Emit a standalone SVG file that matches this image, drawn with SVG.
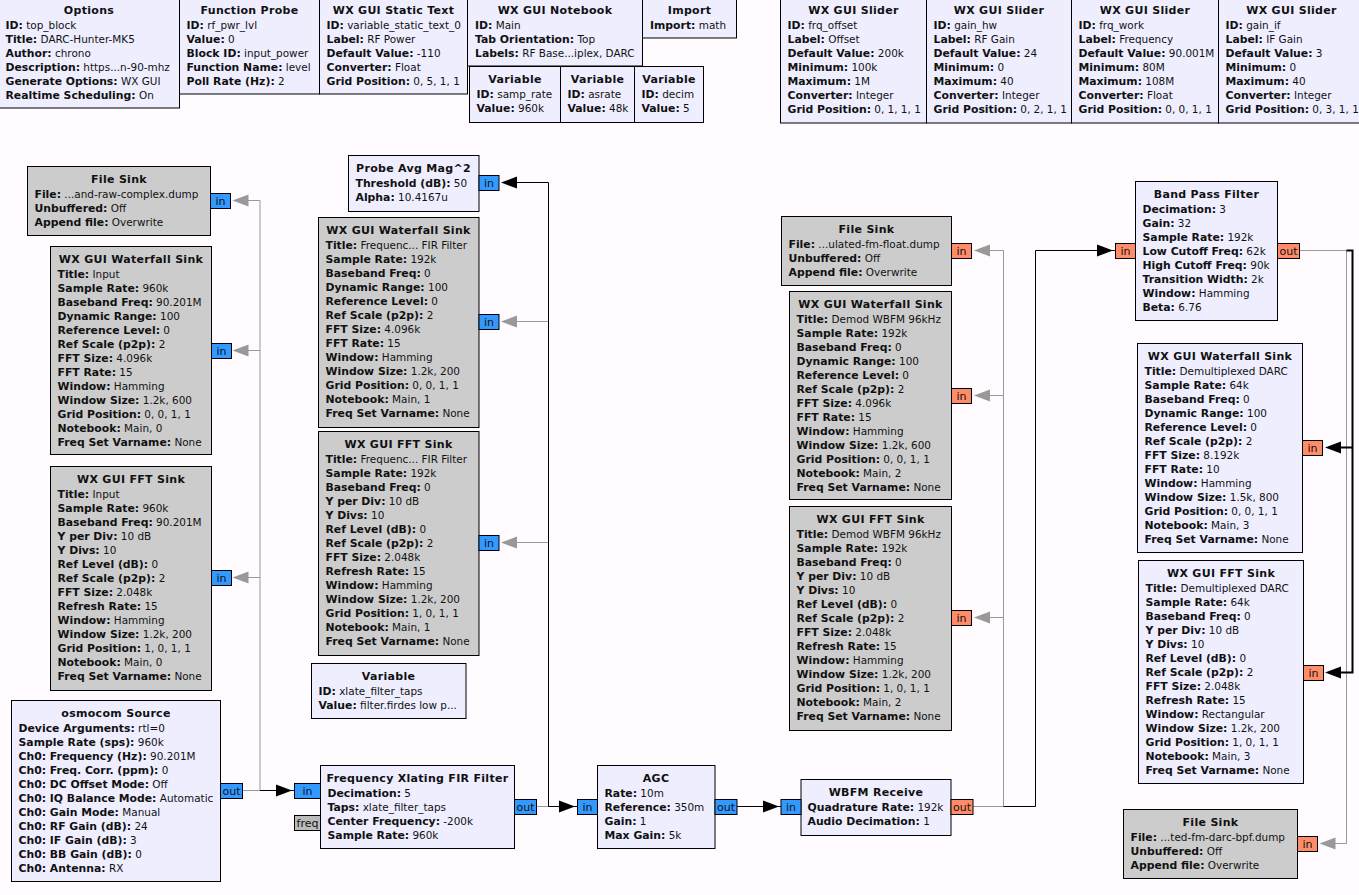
<svg xmlns="http://www.w3.org/2000/svg" width="1359" height="895" viewBox="0 0 1359 895">
<style>
text{font-family:"DejaVu Sans",sans-serif;font-size:10.45px;fill:#111}
.h{font-weight:bold;text-anchor:middle;font-size:11px;letter-spacing:.3px}
tspan{font-weight:bold;font-size:10.85px}
.b{fill:#eef;stroke:#000;stroke-width:1}
.d{fill:#ccc;stroke:#000;stroke-width:1}
.pb{fill:#39f;stroke:#000;stroke-width:1}
.po{fill:#ff8c69;stroke:#000;stroke-width:1}
.pg{fill:#bbb;stroke:#000;stroke-width:1}
text.p{text-anchor:middle;font-size:11px}
.k{fill:none;stroke:#000;stroke-width:1}
.g{fill:none;stroke:#999;stroke-width:1}
</style>
<defs>
<polygon id="ar" points="0,0 16,-6 16,6" fill="#000"/>
<polygon id="al" points="0,0 -16,-6 -16,6" fill="#000"/>
<polygon id="ag" points="0,0 16,-6 16,6" fill="#999"/>
</defs>
<rect width="1359" height="895" fill="#fffbff"/>
<g id="connectors">
<path class="g" d="M242 790.5H260V200.5H248M260 350.5H248M260 577.5H248"/>
<path class="g" d="M536.5 806.5H548.5V321.5H517M548.5 542.5H517"/>
<path class="g" d="M973 806.5H1003.5V250.5H990M1003.5 395.5H990M1003.5 617.5H990"/>
<path class="g" d="M1299.5 250.5H1346.5V843.5H1335"/>
<path class="k" d="M260 790.5H294"/>
<path class="k" d="M548.5 806.5H577M548.5 806.5V182.5H517"/>
<path class="k" d="M737 806.5H781"/>
<path class="k" d="M1003.5 806.5H1035.5V250.5H1115"/>
<path class="k" style="stroke-width:2" d="M1346.5 250.5H1352.5V672.5H1340M1352.5 447.5H1340"/>
<use href="#al" x="292" y="790.5"/>
<use href="#al" x="575" y="806.5"/>
<use href="#al" x="779" y="806.5"/>
<use href="#al" x="1113" y="250.5"/>
<use href="#ar" x="501" y="182.5"/>
<use href="#ar" x="1325" y="447.5"/>
<use href="#ar" x="1325" y="672.5"/>
<use href="#ag" x="232.5" y="200.5"/>
<use href="#ag" x="232.5" y="350.5"/>
<use href="#ag" x="232.5" y="577.5"/>
<use href="#ag" x="501" y="321.5"/>
<use href="#ag" x="501" y="542.5"/>
<use href="#ag" x="974" y="250.5"/>
<use href="#ag" x="974" y="395.5"/>
<use href="#ag" x="974" y="617.5"/>
<use href="#ag" x="1319.5" y="843.5"/>
</g>
<g id="options"><rect class="b" x="-2" y="-5" width="181.5" height="113"/><text class="h" x="89" y="14">Options</text>
<text x="5.5" y="29"><tspan>ID:</tspan> top_block</text><text x="5.5" y="43"><tspan>Title:</tspan> DARC-Hunter-MK5</text><text x="5.5" y="57"><tspan>Author:</tspan> chrono</text><text x="5.5" y="71"><tspan>Description:</tspan> https...n-90-mhz</text><text x="5.5" y="85"><tspan>Generate Options:</tspan> WX GUI</text><text x="5.5" y="99"><tspan>Realtime Scheduling:</tspan> On</text></g>
<g id="function_probe"><rect class="b" x="179.5" y="-5" width="140" height="99"/><text class="h" x="249.5" y="14">Function Probe</text>
<text x="186.5" y="29"><tspan>ID:</tspan> rf_pwr_lvl</text><text x="186.5" y="43"><tspan>Value:</tspan> 0</text><text x="186.5" y="57"><tspan>Block ID:</tspan> input_power</text><text x="186.5" y="71"><tspan>Function Name:</tspan> level</text><text x="186.5" y="85"><tspan>Poll Rate (Hz):</tspan> 2</text></g>
<g id="static_text"><rect class="b" x="319.5" y="-5" width="148" height="99"/><text class="h" x="393.5" y="14">WX GUI Static Text</text>
<text x="326.5" y="29"><tspan>ID:</tspan> variable_static_text_0</text><text x="326.5" y="43"><tspan>Label:</tspan> RF Power</text><text x="326.5" y="57"><tspan>Default Value:</tspan> -110</text><text x="326.5" y="71"><tspan>Converter:</tspan> Float</text><text x="326.5" y="85"><tspan>Grid Position:</tspan> 0, 5, 1, 1</text></g>
<g id="notebook"><rect class="b" x="467.5" y="-5" width="175" height="71"/><text class="h" x="555" y="14">WX GUI Notebook</text>
<text x="475" y="29"><tspan>ID:</tspan> Main</text><text x="475" y="43"><tspan>Tab Orientation:</tspan> Top</text><text x="475" y="57"><tspan>Labels:</tspan> RF Base...iplex, DARC</text></g>
<g id="import"><rect class="b" x="642.5" y="-5" width="94" height="43"/><text class="h" x="689.5" y="14">Import</text>
<text x="650" y="29"><tspan>Import:</tspan> math</text></g>
<g id="var_samp_rate"><rect class="b" x="469.5" y="66.5" width="91" height="56"/><text class="h" x="515" y="83">Variable</text>
<text x="476.5" y="98"><tspan>ID:</tspan> samp_rate</text><text x="476.5" y="112"><tspan>Value:</tspan> 960k</text></g>
<g id="var_asrate"><rect class="b" x="560.5" y="66.5" width="74" height="56"/><text class="h" x="597.5" y="83">Variable</text>
<text x="567.5" y="98"><tspan>ID:</tspan> asrate</text><text x="567.5" y="112"><tspan>Value:</tspan> 48k</text></g>
<g id="var_decim"><rect class="b" x="634.5" y="66.5" width="69" height="56"/><text class="h" x="669" y="83">Variable</text>
<text x="641.5" y="98"><tspan>ID:</tspan> decim</text><text x="641.5" y="112"><tspan>Value:</tspan> 5</text></g>
<g id="slider_frq_offset"><rect class="b" x="780.5" y="-5" width="146" height="128"/><text class="h" x="853.5" y="14">WX GUI Slider</text>
<text x="787.5" y="29"><tspan>ID:</tspan> frq_offset</text><text x="787.5" y="43"><tspan>Label:</tspan> Offset</text><text x="787.5" y="57"><tspan>Default Value:</tspan> 200k</text><text x="787.5" y="71"><tspan>Minimum:</tspan> 100k</text><text x="787.5" y="85"><tspan>Maximum:</tspan> 1M</text><text x="787.5" y="99"><tspan>Converter:</tspan> Integer</text><text x="787.5" y="113"><tspan>Grid Position:</tspan> 0, 1, 1, 1</text></g>
<g id="slider_gain_hw"><rect class="b" x="926.5" y="-5" width="145" height="128"/><text class="h" x="999" y="14">WX GUI Slider</text>
<text x="933.5" y="29"><tspan>ID:</tspan> gain_hw</text><text x="933.5" y="43"><tspan>Label:</tspan> RF Gain</text><text x="933.5" y="57"><tspan>Default Value:</tspan> 24</text><text x="933.5" y="71"><tspan>Minimum:</tspan> 0</text><text x="933.5" y="85"><tspan>Maximum:</tspan> 40</text><text x="933.5" y="99"><tspan>Converter:</tspan> Integer</text><text x="933.5" y="113"><tspan>Grid Position:</tspan> 0, 2, 1, 1</text></g>
<g id="slider_frq_work"><rect class="b" x="1071.5" y="-5" width="147" height="128"/><text class="h" x="1145" y="14">WX GUI Slider</text>
<text x="1078.5" y="29"><tspan>ID:</tspan> frq_work</text><text x="1078.5" y="43"><tspan>Label:</tspan> Frequency</text><text x="1078.5" y="57"><tspan>Default Value:</tspan> 90.001M</text><text x="1078.5" y="71"><tspan>Minimum:</tspan> 80M</text><text x="1078.5" y="85"><tspan>Maximum:</tspan> 108M</text><text x="1078.5" y="99"><tspan>Converter:</tspan> Float</text><text x="1078.5" y="113"><tspan>Grid Position:</tspan> 0, 0, 1, 1</text></g>
<g id="slider_gain_if"><rect class="b" x="1218.5" y="-5" width="146" height="128"/><text class="h" x="1291.5" y="14">WX GUI Slider</text>
<text x="1225.5" y="29"><tspan>ID:</tspan> gain_if</text><text x="1225.5" y="43"><tspan>Label:</tspan> IF Gain</text><text x="1225.5" y="57"><tspan>Default Value:</tspan> 3</text><text x="1225.5" y="71"><tspan>Minimum:</tspan> 0</text><text x="1225.5" y="85"><tspan>Maximum:</tspan> 40</text><text x="1225.5" y="99"><tspan>Converter:</tspan> Integer</text><text x="1225.5" y="113"><tspan>Grid Position:</tspan> 0, 3, 1, 1</text></g>
<g id="file_sink_raw"><rect class="d" x="27.5" y="166.5" width="183" height="69"/><text class="h" x="119" y="183">File Sink</text>
<text x="34.5" y="198"><tspan>File:</tspan> ...and-raw-complex.dump</text><text x="34.5" y="212"><tspan>Unbuffered:</tspan> Off</text><text x="34.5" y="226"><tspan>Append file:</tspan> Overwrite</text>
<rect class="pb" x="210.5" y="193.5" width="20" height="15"/><text class="p" x="220.5" y="205">in</text></g>
<g id="waterfall_input"><rect class="d" x="50.5" y="246.5" width="161" height="208"/><text class="h" x="131" y="263">WX GUI Waterfall Sink</text>
<text x="57.5" y="278"><tspan>Title:</tspan> Input</text><text x="57.5" y="292"><tspan>Sample Rate:</tspan> 960k</text><text x="57.5" y="306"><tspan>Baseband Freq:</tspan> 90.201M</text><text x="57.5" y="320"><tspan>Dynamic Range:</tspan> 100</text><text x="57.5" y="334"><tspan>Reference Level:</tspan> 0</text><text x="57.5" y="348"><tspan>Ref Scale (p2p):</tspan> 2</text><text x="57.5" y="362"><tspan>FFT Size:</tspan> 4.096k</text><text x="57.5" y="376"><tspan>FFT Rate:</tspan> 15</text><text x="57.5" y="390"><tspan>Window:</tspan> Hamming</text><text x="57.5" y="404"><tspan>Window Size:</tspan> 1.2k, 600</text><text x="57.5" y="418"><tspan>Grid Position:</tspan> 0, 0, 1, 1</text><text x="57.5" y="432"><tspan>Notebook:</tspan> Main, 0</text><text x="57.5" y="446"><tspan>Freq Set Varname:</tspan> None</text>
<rect class="pb" x="211.5" y="343.5" width="20" height="15"/><text class="p" x="221.5" y="355">in</text></g>
<g id="fft_input"><rect class="d" x="50.5" y="466.5" width="161" height="224"/><text class="h" x="131" y="483">WX GUI FFT Sink</text>
<text x="57.5" y="498"><tspan>Title:</tspan> Input</text><text x="57.5" y="512"><tspan>Sample Rate:</tspan> 960k</text><text x="57.5" y="526"><tspan>Baseband Freq:</tspan> 90.201M</text><text x="57.5" y="540"><tspan>Y per Div:</tspan> 10 dB</text><text x="57.5" y="554"><tspan>Y Divs:</tspan> 10</text><text x="57.5" y="568"><tspan>Ref Level (dB):</tspan> 0</text><text x="57.5" y="582"><tspan>Ref Scale (p2p):</tspan> 2</text><text x="57.5" y="596"><tspan>FFT Size:</tspan> 2.048k</text><text x="57.5" y="610"><tspan>Refresh Rate:</tspan> 15</text><text x="57.5" y="624"><tspan>Window:</tspan> Hamming</text><text x="57.5" y="638"><tspan>Window Size:</tspan> 1.2k, 200</text><text x="57.5" y="652"><tspan>Grid Position:</tspan> 1, 0, 1, 1</text><text x="57.5" y="666"><tspan>Notebook:</tspan> Main, 0</text><text x="57.5" y="680"><tspan>Freq Set Varname:</tspan> None</text>
<rect class="pb" x="211.5" y="570.5" width="20" height="15"/><text class="p" x="221.5" y="582">in</text></g>
<g id="osmocom_source"><rect class="b" x="11.5" y="700.5" width="209" height="181"/><text class="h" x="116" y="717">osmocom Source</text>
<text x="18.5" y="732"><tspan>Device Arguments:</tspan> rtl=0</text><text x="18.5" y="746"><tspan>Sample Rate (sps):</tspan> 960k</text><text x="18.5" y="760"><tspan>Ch0: Frequency (Hz):</tspan> 90.201M</text><text x="18.5" y="774"><tspan>Ch0: Freq. Corr. (ppm):</tspan> 0</text><text x="18.5" y="788"><tspan>Ch0: DC Offset Mode:</tspan> Off</text><text x="18.5" y="802"><tspan>Ch0: IQ Balance Mode:</tspan> Automatic</text><text x="18.5" y="816"><tspan>Ch0: Gain Mode:</tspan> Manual</text><text x="18.5" y="830"><tspan>Ch0: RF Gain (dB):</tspan> 24</text><text x="18.5" y="844"><tspan>Ch0: IF Gain (dB):</tspan> 3</text><text x="18.5" y="858"><tspan>Ch0: BB Gain (dB):</tspan> 0</text><text x="18.5" y="872"><tspan>Ch0: Antenna:</tspan> RX</text>
<rect class="pb" x="220.5" y="783.5" width="22" height="15"/><text class="p" x="231.5" y="795">out</text></g>
<g id="probe_avg"><rect class="b" x="348.5" y="155.5" width="130.5" height="56"/><text class="h" x="413.5" y="172">Probe Avg Mag^2</text>
<text x="355.5" y="187"><tspan>Threshold (dB):</tspan> 50</text><text x="355.5" y="201"><tspan>Alpha:</tspan> 10.4167u</text>
<rect class="pb" x="479" y="175.5" width="20" height="15"/><text class="p" x="489" y="187">in</text></g>
<g id="waterfall_fir"><rect class="d" x="318.5" y="217.5" width="160.5" height="210"/><text class="h" x="398.5" y="234">WX GUI Waterfall Sink</text>
<text x="325.5" y="249"><tspan>Title:</tspan> Frequenc... FIR Filter</text><text x="325.5" y="263"><tspan>Sample Rate:</tspan> 192k</text><text x="325.5" y="277"><tspan>Baseband Freq:</tspan> 0</text><text x="325.5" y="291"><tspan>Dynamic Range:</tspan> 100</text><text x="325.5" y="305"><tspan>Reference Level:</tspan> 0</text><text x="325.5" y="319"><tspan>Ref Scale (p2p):</tspan> 2</text><text x="325.5" y="333"><tspan>FFT Size:</tspan> 4.096k</text><text x="325.5" y="347"><tspan>FFT Rate:</tspan> 15</text><text x="325.5" y="361"><tspan>Window:</tspan> Hamming</text><text x="325.5" y="375"><tspan>Window Size:</tspan> 1.2k, 200</text><text x="325.5" y="389"><tspan>Grid Position:</tspan> 0, 0, 1, 1</text><text x="325.5" y="403"><tspan>Notebook:</tspan> Main, 1</text><text x="325.5" y="417"><tspan>Freq Set Varname:</tspan> None</text>
<rect class="pb" x="479" y="314.5" width="20" height="15"/><text class="p" x="489" y="326">in</text></g>
<g id="fft_fir"><rect class="d" x="318.5" y="431.5" width="160.5" height="224"/><text class="h" x="398.5" y="448">WX GUI FFT Sink</text>
<text x="325.5" y="463"><tspan>Title:</tspan> Frequenc... FIR Filter</text><text x="325.5" y="477"><tspan>Sample Rate:</tspan> 192k</text><text x="325.5" y="491"><tspan>Baseband Freq:</tspan> 0</text><text x="325.5" y="505"><tspan>Y per Div:</tspan> 10 dB</text><text x="325.5" y="519"><tspan>Y Divs:</tspan> 10</text><text x="325.5" y="533"><tspan>Ref Level (dB):</tspan> 0</text><text x="325.5" y="547"><tspan>Ref Scale (p2p):</tspan> 2</text><text x="325.5" y="561"><tspan>FFT Size:</tspan> 2.048k</text><text x="325.5" y="575"><tspan>Refresh Rate:</tspan> 15</text><text x="325.5" y="589"><tspan>Window:</tspan> Hamming</text><text x="325.5" y="603"><tspan>Window Size:</tspan> 1.2k, 200</text><text x="325.5" y="617"><tspan>Grid Position:</tspan> 1, 0, 1, 1</text><text x="325.5" y="631"><tspan>Notebook:</tspan> Main, 1</text><text x="325.5" y="645"><tspan>Freq Set Varname:</tspan> None</text>
<rect class="pb" x="479" y="535.5" width="20" height="15"/><text class="p" x="489" y="547">in</text></g>
<g id="var_xlate"><rect class="b" x="311.5" y="663.5" width="154.5" height="55"/><text class="h" x="388.5" y="680">Variable</text>
<text x="318.5" y="695"><tspan>ID:</tspan> xlate_filter_taps</text><text x="318.5" y="709"><tspan>Value:</tspan> filter.firdes low p...</text></g>
<g id="xlating_fir"><rect class="b" x="320.5" y="765.5" width="194" height="83"/><text class="h" x="417.5" y="782">Frequency Xlating FIR Filter</text>
<text x="327.5" y="797"><tspan>Decimation:</tspan> 5</text><text x="327.5" y="811"><tspan>Taps:</tspan> xlate_filter_taps</text><text x="327.5" y="825"><tspan>Center Frequency:</tspan> -200k</text><text x="327.5" y="839"><tspan>Sample Rate:</tspan> 960k</text>
<rect class="pb" x="294.5" y="783.5" width="26" height="15"/><text class="p" x="307.5" y="795">in</text>
<rect class="pg" x="294.5" y="815.5" width="26" height="15"/><text class="p" x="307.5" y="827">freq</text>
<rect class="pb" x="514.5" y="799.5" width="22" height="15"/><text class="p" x="525.5" y="811">out</text></g>
<g id="agc"><rect class="b" x="597.5" y="765.5" width="117.5" height="83"/><text class="h" x="656" y="782">AGC</text>
<text x="604.5" y="797"><tspan>Rate:</tspan> 10m</text><text x="604.5" y="811"><tspan>Reference:</tspan> 350m</text><text x="604.5" y="825"><tspan>Gain:</tspan> 1</text><text x="604.5" y="839"><tspan>Max Gain:</tspan> 5k</text>
<rect class="pb" x="577.5" y="799.5" width="20" height="15"/><text class="p" x="587.5" y="811">in</text>
<rect class="pb" x="715" y="799.5" width="22" height="15"/><text class="p" x="726" y="811">out</text></g>
<g id="wbfm"><rect class="b" x="801" y="779.5" width="150" height="56"/><text class="h" x="876" y="796">WBFM Receive</text>
<text x="807.5" y="811"><tspan>Quadrature Rate:</tspan> 192k</text><text x="807.5" y="825"><tspan>Audio Decimation:</tspan> 1</text>
<rect class="pb" x="781" y="799.5" width="20" height="15"/><text class="p" x="791" y="811">in</text>
<rect class="po" x="951" y="799.5" width="22" height="15"/><text class="p" x="962" y="811">out</text></g>
<g id="file_sink_fm"><rect class="d" x="781.5" y="216.5" width="170" height="69"/><text class="h" x="866.5" y="233">File Sink</text>
<text x="788.5" y="248"><tspan>File:</tspan> ...ulated-fm-float.dump</text><text x="788.5" y="262"><tspan>Unbuffered:</tspan> Off</text><text x="788.5" y="276"><tspan>Append file:</tspan> Overwrite</text>
<rect class="po" x="951.5" y="243.5" width="20" height="15"/><text class="p" x="961.5" y="255">in</text></g>
<g id="waterfall_wbfm"><rect class="d" x="789.5" y="291.5" width="162" height="208"/><text class="h" x="870.5" y="308">WX GUI Waterfall Sink</text>
<text x="796.5" y="323"><tspan>Title:</tspan> Demod WBFM 96kHz</text><text x="796.5" y="337"><tspan>Sample Rate:</tspan> 192k</text><text x="796.5" y="351"><tspan>Baseband Freq:</tspan> 0</text><text x="796.5" y="365"><tspan>Dynamic Range:</tspan> 100</text><text x="796.5" y="379"><tspan>Reference Level:</tspan> 0</text><text x="796.5" y="393"><tspan>Ref Scale (p2p):</tspan> 2</text><text x="796.5" y="407"><tspan>FFT Size:</tspan> 4.096k</text><text x="796.5" y="421"><tspan>FFT Rate:</tspan> 15</text><text x="796.5" y="435"><tspan>Window:</tspan> Hamming</text><text x="796.5" y="449"><tspan>Window Size:</tspan> 1.2k, 600</text><text x="796.5" y="463"><tspan>Grid Position:</tspan> 0, 0, 1, 1</text><text x="796.5" y="477"><tspan>Notebook:</tspan> Main, 2</text><text x="796.5" y="491"><tspan>Freq Set Varname:</tspan> None</text>
<rect class="po" x="951.5" y="388.5" width="20" height="15"/><text class="p" x="961.5" y="400">in</text></g>
<g id="fft_wbfm"><rect class="d" x="789.5" y="506.5" width="162" height="224"/><text class="h" x="870.5" y="523">WX GUI FFT Sink</text>
<text x="796.5" y="538"><tspan>Title:</tspan> Demod WBFM 96kHz</text><text x="796.5" y="552"><tspan>Sample Rate:</tspan> 192k</text><text x="796.5" y="566"><tspan>Baseband Freq:</tspan> 0</text><text x="796.5" y="580"><tspan>Y per Div:</tspan> 10 dB</text><text x="796.5" y="594"><tspan>Y Divs:</tspan> 10</text><text x="796.5" y="608"><tspan>Ref Level (dB):</tspan> 0</text><text x="796.5" y="622"><tspan>Ref Scale (p2p):</tspan> 2</text><text x="796.5" y="636"><tspan>FFT Size:</tspan> 2.048k</text><text x="796.5" y="650"><tspan>Refresh Rate:</tspan> 15</text><text x="796.5" y="664"><tspan>Window:</tspan> Hamming</text><text x="796.5" y="678"><tspan>Window Size:</tspan> 1.2k, 200</text><text x="796.5" y="692"><tspan>Grid Position:</tspan> 1, 0, 1, 1</text><text x="796.5" y="706"><tspan>Notebook:</tspan> Main, 2</text><text x="796.5" y="720"><tspan>Freq Set Varname:</tspan> None</text>
<rect class="po" x="951.5" y="610.5" width="20" height="15"/><text class="p" x="961.5" y="622">in</text></g>
<g id="band_pass"><rect class="b" x="1135.5" y="181.5" width="142" height="139"/><text class="h" x="1206.5" y="198">Band Pass Filter</text>
<text x="1142.5" y="213"><tspan>Decimation:</tspan> 3</text><text x="1142.5" y="227"><tspan>Gain:</tspan> 32</text><text x="1142.5" y="241"><tspan>Sample Rate:</tspan> 192k</text><text x="1142.5" y="255"><tspan>Low Cutoff Freq:</tspan> 62k</text><text x="1142.5" y="269"><tspan>High Cutoff Freq:</tspan> 90k</text><text x="1142.5" y="283"><tspan>Transition Width:</tspan> 2k</text><text x="1142.5" y="297"><tspan>Window:</tspan> Hamming</text><text x="1142.5" y="311"><tspan>Beta:</tspan> 6.76</text>
<rect class="po" x="1115.5" y="243.5" width="20" height="15"/><text class="p" x="1125.5" y="255">in</text>
<rect class="po" x="1277.5" y="243.5" width="22" height="15"/><text class="p" x="1288.5" y="255">out</text></g>
<g id="waterfall_darc"><rect class="b" x="1137.5" y="343.5" width="165" height="209"/><text class="h" x="1220" y="360">WX GUI Waterfall Sink</text>
<text x="1144.5" y="375"><tspan>Title:</tspan> Demultiplexed DARC</text><text x="1144.5" y="389"><tspan>Sample Rate:</tspan> 64k</text><text x="1144.5" y="403"><tspan>Baseband Freq:</tspan> 0</text><text x="1144.5" y="417"><tspan>Dynamic Range:</tspan> 100</text><text x="1144.5" y="431"><tspan>Reference Level:</tspan> 0</text><text x="1144.5" y="445"><tspan>Ref Scale (p2p):</tspan> 2</text><text x="1144.5" y="459"><tspan>FFT Size:</tspan> 8.192k</text><text x="1144.5" y="473"><tspan>FFT Rate:</tspan> 10</text><text x="1144.5" y="487"><tspan>Window:</tspan> Hamming</text><text x="1144.5" y="501"><tspan>Window Size:</tspan> 1.5k, 800</text><text x="1144.5" y="515"><tspan>Grid Position:</tspan> 0, 0, 1, 1</text><text x="1144.5" y="529"><tspan>Notebook:</tspan> Main, 3</text><text x="1144.5" y="543"><tspan>Freq Set Varname:</tspan> None</text>
<rect class="po" x="1302.5" y="440.5" width="20" height="15"/><text class="p" x="1312.5" y="452">in</text></g>
<g id="fft_darc"><rect class="b" x="1138.5" y="560.5" width="165" height="223"/><text class="h" x="1221" y="577">WX GUI FFT Sink</text>
<text x="1145.5" y="592"><tspan>Title:</tspan> Demultiplexed DARC</text><text x="1145.5" y="606"><tspan>Sample Rate:</tspan> 64k</text><text x="1145.5" y="620"><tspan>Baseband Freq:</tspan> 0</text><text x="1145.5" y="634"><tspan>Y per Div:</tspan> 10 dB</text><text x="1145.5" y="648"><tspan>Y Divs:</tspan> 10</text><text x="1145.5" y="662"><tspan>Ref Level (dB):</tspan> 0</text><text x="1145.5" y="676"><tspan>Ref Scale (p2p):</tspan> 2</text><text x="1145.5" y="690"><tspan>FFT Size:</tspan> 2.048k</text><text x="1145.5" y="704"><tspan>Refresh Rate:</tspan> 15</text><text x="1145.5" y="718"><tspan>Window:</tspan> Rectangular</text><text x="1145.5" y="732"><tspan>Window Size:</tspan> 1.2k, 200</text><text x="1145.5" y="746"><tspan>Grid Position:</tspan> 1, 0, 1, 1</text><text x="1145.5" y="760"><tspan>Notebook:</tspan> Main, 3</text><text x="1145.5" y="774"><tspan>Freq Set Varname:</tspan> None</text>
<rect class="po" x="1303.5" y="665.5" width="20" height="15"/><text class="p" x="1313.5" y="677">in</text></g>
<g id="file_sink_bpf"><rect class="d" x="1123.5" y="809.5" width="174" height="69"/><text class="h" x="1210.5" y="826">File Sink</text>
<text x="1130.5" y="841"><tspan>File:</tspan> ...ted-fm-darc-bpf.dump</text><text x="1130.5" y="855"><tspan>Unbuffered:</tspan> Off</text><text x="1130.5" y="869"><tspan>Append file:</tspan> Overwrite</text>
<rect class="po" x="1297.5" y="836.5" width="20" height="15"/><text class="p" x="1307.5" y="848">in</text></g>
</svg>
